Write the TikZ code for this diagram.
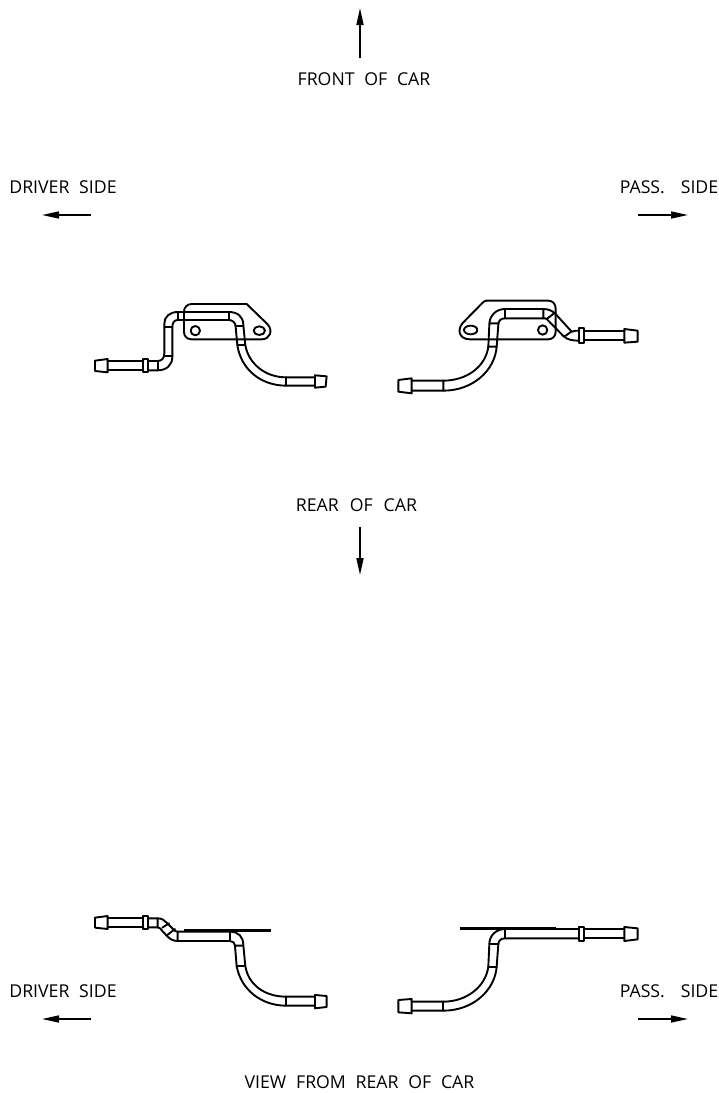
\documentclass[tikz,border=0pt]{standalone}
\usepackage{fontspec}
\setmainfont{Open Sans}
\usetikzlibrary{arrows.meta}
\tikzset{
  tube/.style={line width=1.9pt,line join=round,line cap=round,black},
  dirarrow/.style={line width=1.6pt,-{Triangle[length=17pt,width=7pt]}},
  label/.style={inner sep=0pt,anchor=center,font=\fontsize{17.7pt}{18pt}\selectfont},
  part/.style={x=0.3333pt,y=-0.3333pt}
}
\newcommand{\W}{\hspace{0.55em}}
\begin{document}
\begin{tikzpicture}[x=1pt,y=-1pt]
\useasboundingbox[fill=white] (0,0) rectangle (719,1093);
% arrows
\coordinate (fa) at (360,58); \coordinate (fb) at (360,8);
\coordinate (ra) at (360,527); \coordinate (rb) at (360,575);
\coordinate (d1a) at (91,215); \coordinate (d1b) at (42,215);
\coordinate (p1a) at (638,215); \coordinate (p1b) at (688,215);
\coordinate (d2a) at (91,1019); \coordinate (d2b) at (42,1019);
\coordinate (p2a) at (638,1019); \coordinate (p2b) at (688,1019);
\draw[dirarrow] (fa) -- (fb);
\draw[dirarrow] (ra) -- (rb);
\draw[dirarrow] (d1a) -- (d1b);
\draw[dirarrow] (p1a) -- (p1b);
\draw[dirarrow] (d2a) -- (d2b);
\draw[dirarrow] (p2a) -- (p2b);
% labels
\node[label] (t1) at (364,79.5) {FRONT\W OF\W CAR};
\node[label] (t2) at (63,187.5) {DRIVER\W SIDE};
\node[label] (t3) at (669,187.5) {PASS.\hspace{0.9em}SIDE};
\node[label] (t4) at (356.5,505.5) {REAR\hspace{0.62em}OF\hspace{0.62em}CAR};
\node[label] (t5) at (63,991.5) {DRIVER\W SIDE};
\node[label] (t6) at (669,991.5) {PASS.\hspace{0.9em}SIDE};
\node[label] (t7) at (359.5,1082.5) {VIEW\W FROM\W REAR\W OF\W CAR};
% Part A (upper left)
\begin{scope}[shift={(85,290)},part]
\draw[tube] (320,42) -- (485,42) -- (548,103) .. controls (565,122) and (555,148) .. (530,148) -- (320,148) .. controls (305,148) and (297,138) .. (297,125) -- (297,65) .. controls (297,52) and (307,42) .. (320,42) -- cycle;
\draw[tube] (331,122) circle[radius=14];
\draw[tube] (523,122) ellipse[x radius=17,y radius=13];
\draw[tube] (30,212) -- (68,207) -- (68,247) -- (30,243) -- cycle;
\draw[tube] (68,213) -- (175,213) (68,241) -- (175,241);
\draw[tube] (175,207) rectangle (190,247);
\draw[tube] (190,213) -- (218,213) .. controls (230,213) and (238,205) .. (238,190) -- (238,100) .. controls (238,80) and (255,66) .. (278,66) -- (432,66) .. controls (458,66) and (475,80) .. (475,105) -- (481,165) .. controls (490,220) and (540,262) .. (603,262) -- (690,262);
\draw[tube] (190,241) -- (218,241) .. controls (245,241) and (262,225) .. (262,200) -- (262,112) .. controls (262,98) and (268,90) .. (278,90) -- (432,90) .. controls (442,90) and (452,98) .. (452,110) -- (457,165) .. controls (468,240) and (530,287) .. (603,287) -- (690,287);
\draw[tube] (218,213) -- (218,241) (238,197) -- (262,197) (238,110) -- (262,110) (278,66) -- (278,90) (432,66) -- (432,90) (452,108) -- (475,108) (457,165) -- (481,165) (603,262) -- (603,287);
\draw[tube] (690,256) -- (725,259) -- (722,290) -- (690,293) -- cycle;
\end{scope}
% Part B (upper right)
\begin{scope}[shift={(390,290)},part]
\draw[tube] (290,32) -- (475,32) .. controls (488,32) and (497,42) .. (497,55) -- (497,125) .. controls (497,138) and (488,148) .. (475,148) -- (240,148) .. controls (205,148) and (198,115) .. (225,92) -- (278,38) .. controls (282,34) and (286,32) .. (290,32) -- cycle;
\draw[tube] (242,120) ellipse[x radius=20,y radius=13];
\draw[tube] (458,120) circle[radius=14];
\draw[tube] (25,270) -- (65,265) -- (65,310) -- (25,305) -- cycle;
\draw[tube] (65,272) -- (160,272) .. controls (230,272) and (287,230) .. (295,170) -- (298,105) .. controls (298,75) and (320,57) .. (345,57) -- (460,57) .. controls (475,57) and (485,62) .. (495,70) -- (545,125) .. controls (552,122) and (560,122) .. (568,122);
\draw[tube] (65,302) -- (160,302) .. controls (250,302) and (315,240) .. (320,170) -- (325,105) .. controls (325,92) and (333,85) .. (345,85) -- (460,85) .. controls (465,85) and (468,85) .. (470,87) -- (520,138) .. controls (532,150) and (550,152) .. (568,152);
\draw[tube] (160,272) -- (160,302) (295,170) -- (320,170) (298,100) -- (325,100) (345,57) -- (345,85) (460,57) -- (460,85) (470,87) -- (495,68) (523,140) -- (545,124);
\draw[tube] (568,115) rectangle (583,160);
\draw[tube] (583,122) -- (703,122) (583,150) -- (703,150);
\draw[tube] (703,117) -- (743,122) -- (743,155) -- (703,158) -- cycle;
\end{scope}
% Part C (lower left)
\begin{scope}[shift={(85,905)},part]
\fill (297,73) rectangle (558,81);
\draw[tube] (30,38) -- (68,33) -- (68,72) -- (30,68) -- cycle;
\draw[tube] (68,40) -- (175,40) (68,67) -- (175,67);
\draw[tube] (175,33) rectangle (190,73);
\draw[tube] (190,40) -- (218,40) .. controls (230,40) and (238,45) .. (245,53) -- (265,73) .. controls (270,78) and (273,80) .. (278,80) -- (435,80) .. controls (460,80) and (475,95) .. (475,120) -- (481,183) .. controls (490,240) and (540,275) .. (603,275) -- (690,275);
\draw[tube] (190,67) -- (218,67) .. controls (224,67) and (228,72) .. (232,78) -- (248,95) .. controls (256,103) and (266,108) .. (278,108) -- (435,108) .. controls (444,108) and (450,114) .. (450,122) -- (455,183) .. controls (468,255) and (530,302) .. (603,302) -- (690,302);
\draw[tube] (218,40) -- (218,67) (232,68) -- (252,55) (247,90) -- (270,72) (278,80) -- (278,108) (435,80) -- (435,108) (450,122) -- (475,122) (455,183) -- (481,183) (603,275) -- (603,302);
\draw[tube] (690,270) -- (725,273) -- (725,306) -- (690,310) -- cycle;
\end{scope}
% Part D (lower right)
\begin{scope}[shift={(390,905)},part]
\fill (210,65) rectangle (498,74);
\draw[tube] (25,285) -- (65,282) -- (65,325) -- (25,322) -- cycle;
\draw[tube] (65,290) -- (160,290) .. controls (230,290) and (287,245) .. (295,185) -- (298,118) .. controls (298,90) and (320,72) .. (345,72) -- (568,72);
\draw[tube] (65,317) -- (160,317) .. controls (250,317) and (315,255) .. (320,185) -- (325,118) .. controls (325,107) and (333,100) .. (345,100) -- (568,100);
\draw[tube] (160,290) -- (160,317) (295,185) -- (320,185) (298,118) -- (325,118) (345,72) -- (345,100);
\draw[tube] (568,65) rectangle (583,108);
\draw[tube] (583,72) -- (703,72) (583,100) -- (703,100);
\draw[tube] (703,66) -- (743,70) -- (743,103) -- (703,108) -- cycle;
\end{scope}
\end{tikzpicture}
\end{document}
